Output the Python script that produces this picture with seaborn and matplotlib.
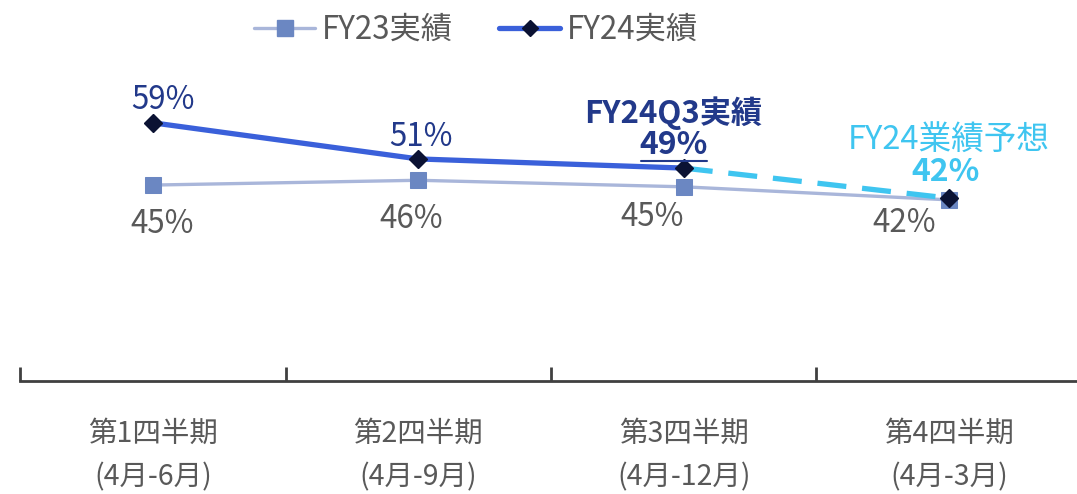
import pandas as pd
import numpy as np
import seaborn as sns
from matplotlib import pyplot as plt
from matplotlib.lines import Line2D

sns.set_theme(style="white")
plt.rcParams['font.family'] = ['Noto Sans CJK JP', 'DejaVu Sans']

# データ
quarters = ['第1四半期', '第2四半期', '第3四半期', '第4四半期']
periods = ['(4月-6月)', '(4月-9月)', '(4月-12月)', '(4月-3月)']
fy23 = [45.0, 46.1, 44.6, 41.6]
fy24 = [59.3, 51.0, 48.9]
fy24_forecast = 42.0

# ラベル位置（ピクセル）
off23 = [(9, -39), (-7, -39), (-32, -30), (-45, -23)]
off24 = [(10, 23), (3, 22)]

gray = '#595959'
navy = '#22398a'
c23_line = '#a9b6da'
c23_mark = '#6b87c2'
c24_line = '#3a60da'
c24_mark = '#0b1233'
c_fc = '#3fc5f0'

df23 = pd.DataFrame({'x': range(len(fy23)), 'y': fy23})
df24 = pd.DataFrame({'x': range(len(fy24)), 'y': fy24})
dffc = pd.DataFrame({'x': [len(fy24) - 1, len(fy24)], 'y': [fy24[-1], fy24_forecast]})

fig = plt.figure(figsize=(10.77, 4.94), dpi=100)
ax = fig.add_axes([0.0186, 0.2287, 0.986, 0.7713])

sns.lineplot(data=df23, x='x', y='y', ax=ax, color=c23_line, linewidth=2.4,
             marker='s', markersize=11.5, markerfacecolor=c23_mark,
             markeredgecolor=c23_mark, zorder=2)
sns.lineplot(data=dffc, x='x', y='y', ax=ax, color=c_fc, linewidth=3.8,
             zorder=3).lines[-1].set_dashes([5.5, 3])
sns.lineplot(data=df24, x='x', y='y', ax=ax, color=c24_line, linewidth=3.8,
             zorder=4)
ax.plot([*df24['x'], len(fy24)], [*fy24, fy24_forecast], linestyle='none',
        marker='D', markersize=9, color=c24_mark, zorder=5)

# ラベル
for i, v in enumerate(fy23):
    ax.annotate(f'{v:.0f}%', (i, v), xytext=off23[i], textcoords='offset pixels',
                ha='center', va='center', fontsize=22.5, color=gray)
for i, v in enumerate(fy24[:2]):
    ax.annotate(f'{v:.0f}%', (i, v), xytext=off24[i], textcoords='offset pixels',
                ha='center', va='center', fontsize=22.5, color=navy)

ax.annotate('FY24Q3実績', (2, fy24[2]), xytext=(-10, 55), textcoords='offset pixels',
            ha='center', va='center', fontsize=22.5, fontweight='bold', color=navy)
t49 = ax.annotate(f'{fy24[2]:.0f}%', (2, fy24[2]), xytext=(-10, 23), textcoords='offset pixels',
                  ha='center', va='center', fontsize=23, fontweight='bold', color=navy)
ax.annotate('FY24業績予想', (3, fy24_forecast), xytext=(0, 58), textcoords='offset pixels',
            ha='center', va='center', fontsize=23.5, color=c_fc)
ax.annotate(f'{fy24_forecast:.0f}%', (3, fy24_forecast), xytext=(-4, 26), textcoords='offset pixels',
            ha='center', va='center', fontsize=23, fontweight='bold', color=c_fc)

ax.set_xlim(-0.5, 3.5)
ax.set_ylim(0, 87.5)
ax.set_yticks([])
ax.set_xticks(range(4))
ax.set_xticklabels([f'{q}\n{p}' for q, p in zip(quarters, periods)],
                   fontsize=20.5, color=gray, linespacing=1.6)
ax.set_xticks(np.arange(-0.5, 4, 1), minor=True)
ax.tick_params(axis='x', which='major', bottom=False, length=0, pad=27)
ax.tick_params(axis='x', which='minor', bottom=True, direction='in', length=10,
               width=2, color='#404040')
ax.set_xlabel('')
ax.set_ylabel('')
for s in ['top', 'right', 'left']:
    ax.spines[s].set_visible(False)
ax.spines['bottom'].set_color('#404040')
ax.spines['bottom'].set_linewidth(2)

handles = [
    Line2D([], [], color=c23_line, linewidth=2.4, marker='s', markersize=11.5,
           markerfacecolor=c23_mark, markeredgecolor=c23_mark),
    Line2D([], [], color=c24_line, linewidth=3.8, marker='D', markersize=8,
           markerfacecolor=c24_mark, markeredgecolor=c24_mark),
]
fig.legend(handles, ['FY23実績', 'FY24実績'], loc='center',
           bbox_to_anchor=(0.442, 0.94), ncol=2, frameon=False, fontsize=22.5,
           labelcolor=gray, handlelength=1.95, columnspacing=1.5, handletextpad=0.2)

# 49% の下線
fig.canvas.draw()
bb = t49.get_window_extent()
fig.add_artist(Line2D([bb.x0 + 1, bb.x1 - 1], [bb.y0, bb.y0],
                      transform=None, color=navy, linewidth=1.5))

fig.savefig('out.png', dpi=100)
